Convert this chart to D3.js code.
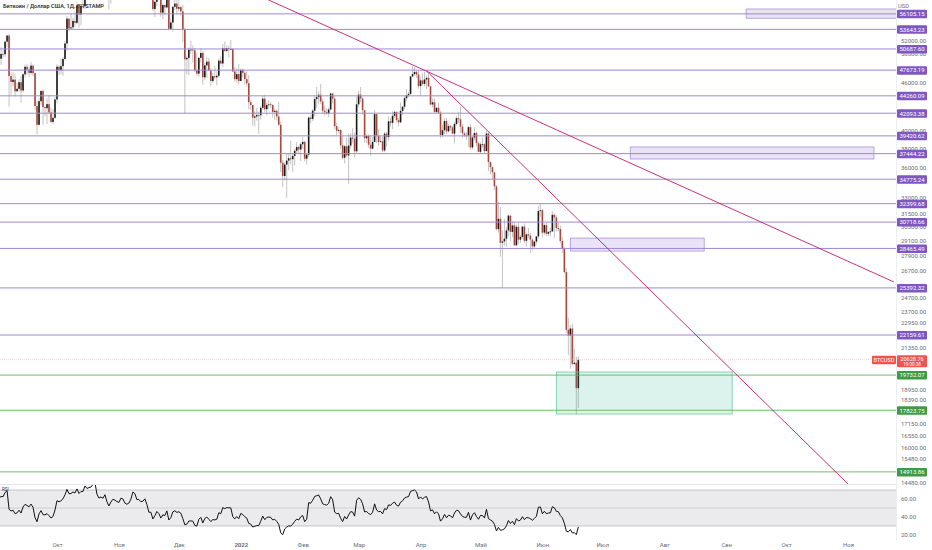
<!DOCTYPE html>
<html>
<head>
<meta charset="utf-8">
<script src="https://cdn.jsdelivr.net/npm/d3@7"></script>
<style>
  html, body { margin: 0; padding: 0; background: #fff; }
  svg { display: block; font-family: Roboto, "Noto Sans", sans-serif; }
</style>
</head>
<body>
<div id="chart"></div>
<script>
// BTC/USD daily, Bitstamp. Candles start 2021-09-02, open of a day = previous close.
const startDay = "2021-09-02";

// Aug 2021 closes, only used to warm up the RSI
const priorCloses = [39850, 39150, 38200, 39740, 40870, 42830, 44600, 43800, 46300, 45600, 45550, 44400, 47820, 47100, 47000, 45900,
  44700, 44800, 46750, 49350, 48870, 49290, 49520, 47700, 48990, 46850, 49080, 48900, 48810, 46990, 47170, 48830];

const closes = [
  // Sep
  49270, 49960, 49920, 51770, 52690, 46870, 46070, 46380, 44850, 45170, 46040, 44950, 47100, 48140, 47760, 47300, 48300, 47260, 42980, 40700, 43580, 44890, 42840, 42710, 43210, 42180, 41040, 41530, 43800,
  // Oct
  48150, 47680, 48230, 49240, 51500, 55340, 53800, 53960, 54970, 54670, 57490, 56010, 57370, 57360, 61670, 60880, 61530, 62030, 64280, 66000, 62200, 60690, 61390, 60900, 63080, 60330, 58470, 60620, 62260, 61880, 61320,
  // Nov
  61000, 63230, 62940, 61440, 61010, 61530, 63330, 67560, 66970, 64880, 64950, 64150, 64400, 65500, 63600, 60350, 60340, 56900, 58100, 59770, 58700, 56300, 57560, 57160, 58960, 53730, 54720, 57270, 57800, 56950,
  // Dec
  57200, 56500, 53600, 49200, 49400, 50580, 50600, 50500, 47670, 47200, 49400, 50100, 46700, 48350, 48860, 47640, 46200, 46850, 46700, 46900, 49000, 48600, 50800, 50400, 50800, 50700, 50700, 47500, 46450, 47130, 46200,
  // Jan
  47700, 47300, 46450, 45900, 43450, 43100, 41550, 41700, 41870, 41850, 42750, 43900, 42580, 43100, 43180, 43100, 42250, 42380, 41700, 40700, 36470, 35100, 36280, 36700, 36950, 36850, 37200, 37750, 38170, 37900, 38480,
  // Feb
  38740, 36900, 37330, 41570, 41400, 42400, 43840, 44100, 44400, 43550, 42390, 42200, 42070, 42550, 44560, 43900, 40540, 40000, 40100, 38350, 37000, 38250, 37250, 38330, 39220, 39100, 37700, 43190,
  // Mar
  44420, 43920, 42450, 39150, 39400, 38420, 37990, 38740, 41980, 39440, 38730, 38810, 37790, 39670, 39280, 41110, 40930, 41770, 42250, 41260, 41000, 42370, 42890, 43960, 44350, 44500, 46820, 47130, 47430, 47060, 45530,
  // Apr
  46280, 45810, 46400, 46620, 45500, 43170, 43440, 42250, 42750, 42150, 39530, 40070, 41150, 39940, 40550, 40390, 39680, 40800, 41500, 41370, 40480, 39710, 39470, 39450, 40430, 38120, 39230, 39740, 38600, 37640,
  // May
  38470, 38470, 37720, 39690, 36550, 36010, 35470, 34060, 30100, 31010, 28940, 29050, 29280, 29990, 31300, 29860, 30420, 28720, 30300, 29200, 29430, 30320, 29100, 29650, 29540, 29200, 28630, 29030, 29470, 31720, 31790,
  // Jun
  29800, 30450, 29700, 29860, 29900, 31370, 31130, 30200, 30110, 29080, 28420, 26580, 22490, 22130, 22580, 20380, 20450, 19000, 20629
];

const highs = [
  50400, 51000, 50560, 51900, 52780, 52920, 47360, 47380, 47100, 45970, 46400, 46900, 47250, 48450, 48500, 48150, 48800, 48360, 47330, 43630, 44000, 44960, 45100, 42950, 43950, 44350, 42780, 42600, 44100,
  48500, 48350, 49300, 49500, 51900, 55750, 55330, 56100, 55480, 56500, 57800, 57680, 57700, 58550, 62900, 62300, 61700, 62650, 64450, 67000, 66600, 63700, 61750, 61500, 63700, 63300, 61500, 62500, 62950, 62300, 62430,
  62400, 64300, 63500, 63100, 62600, 61600, 63400, 67800, 68500, 69000, 65600, 65450, 64900, 65500, 66300, 63600, 60800, 60950, 58300, 59800, 60000, 59250, 57800, 57700, 59350, 59150, 55300, 57400, 58850, 59200,
  59000, 57400, 57600, 53900, 49700, 50900, 51900, 51200, 50800, 50100, 49500, 50800, 50400, 48700, 49500, 49400, 47950, 47300, 48300, 47500, 49300, 49600, 51400, 51800, 51200, 51200, 52000, 50700, 48100, 47900, 48550,
  47900, 47900, 47500, 47500, 47000, 43700, 43100, 42300, 42750, 42250, 43000, 44300, 44400, 43400, 43700, 43500, 43200, 42700, 42500, 43500, 41100, 36800, 36500, 37500, 37500, 38900, 37400, 38000, 38700, 38350, 38700,
  39250, 38850, 37400, 41700, 41900, 42600, 44400, 45400, 44800, 45800, 43900, 43000, 42700, 42800, 44700, 44550, 44200, 40950, 40400, 40150, 39400, 38400, 39200, 39700, 39700, 40300, 39800, 44200,
  44900, 45400, 44100, 42500, 39600, 39600, 39500, 39300, 42500, 42000, 40200, 39400, 39300, 39900, 39900, 41700, 41500, 42300, 42400, 42300, 41500, 43400, 43000, 44200, 45100, 44800, 46900, 48200, 48100, 47700, 47600,
  46700, 47200, 47400, 46900, 47200, 45500, 43900, 43900, 42800, 43400, 42400, 40700, 41500, 41500, 40800, 40700, 40600, 41000, 41700, 42200, 42900, 40800, 39900, 39900, 40600, 40800, 39400, 40400, 39900, 38800,
  38700, 39200, 38600, 40000, 39800, 36600, 36100, 35500, 34200, 32600, 32100, 30000, 31000, 30300, 31400, 31300, 30800, 30700, 30500, 30700, 29600, 30400, 30600, 29800, 30200, 29800, 29300, 29100, 29500, 32200, 32400,
  31900, 30600, 30700, 29900, 30200, 31700, 31500, 31300, 30700, 30400, 29400, 28600, 26900, 23300, 22800, 22900, 21300, 20800, 20850
];

const lows = [
  48600, 48400, 49400, 49500, 50990, 42900, 44400, 45500, 44160, 44770, 44800, 43380, 44700, 46700, 47050, 46750, 47060, 46850, 42500, 39600, 40600, 43100, 40700, 41700, 40800, 42100, 40900, 40760, 41430,
  43300, 47000, 47100, 46900, 49050, 50400, 53400, 53650, 53700, 54100, 54450, 53900, 54300, 56850, 56850, 60200, 58950, 60100, 61350, 63500, 62000, 60000, 59700, 59550, 60700, 59850, 56800, 57800, 60200, 60750, 59600,
  59500, 60650, 61000, 60700, 60750, 60100, 61350, 63300, 66350, 62800, 64100, 62300, 63400, 63600, 63400, 58600, 58400, 56550, 55600, 57400, 58500, 55650, 55300, 55900, 57000, 53600, 53650, 53300, 56700, 56000,
  56500, 55800, 51700, 42000, 47100, 47000, 50000, 48700, 47400, 46900, 46700, 48700, 45700, 46300, 46600, 47550, 45500, 45950, 46400, 45600, 46650, 48450, 48100, 50300, 50200, 49500, 50500, 47400, 46100, 45950, 45700,
  46200, 46700, 45700, 45500, 42600, 42500, 40600, 40500, 41200, 39650, 41300, 42500, 42300, 41850, 42600, 42700, 41550, 41300, 41200, 40600, 35500, 34000, 34650, 32950, 35700, 36300, 35500, 36200, 37400, 37400, 36650,
  38000, 36600, 36300, 37100, 40900, 41150, 41700, 42700, 43200, 43200, 42000, 41800, 41900, 41600, 42450, 43300, 40200, 39500, 39700, 38000, 36800, 36400, 37100, 34300, 38000, 38600, 37000, 37500,
  42800, 43400, 41900, 38700, 38600, 38100, 37200, 37900, 38700, 38600, 38300, 38700, 37600, 37600, 38200, 38900, 40500, 40200, 41500, 40900, 40500, 40900, 41900, 42600, 43600, 44100, 44400, 46700, 46900, 46600, 45200,
  44200, 45600, 45500, 45100, 45400, 43100, 42800, 42100, 42100, 42000, 39200, 39300, 39600, 39600, 39800, 40000, 39600, 38600, 40600, 40900, 39800, 39200, 39300, 39000, 38200, 37900, 37900, 38900, 38200, 37600,
  37400, 38100, 37500, 37700, 35600, 35300, 34800, 33700, 30000, 29800, 27800, 25400, 28700, 28600, 29500, 29100, 29400, 28700, 28700, 28800, 28900, 29300, 28900, 28600, 29300, 28100, 28300, 28500, 28800, 29300, 31200,
  29400, 29600, 29500, 29500, 29500, 29900, 29300, 29900, 29900, 28900, 28100, 26500, 22300, 20900, 20100, 20300, 20300, 17600, 17950
];

// horizontal levels drawn on the chart
const purpleLevels = [56105.15, 53643.23, 50687.60, 47673.19, 44260.09, 42093.38, 39420.62, 37444.22, 34775.24, 32399.68, 30718.66, 28465.49, 25392.32, 22159.61];
const greenLevels = [19732.07, 17823.75, 14913.86];
const lastPrice = 20628.76;
const countdown = "19:00:38";

// price axis ticks (log scale) and rsi ticks
const priceTicks = [52000, 50000, 46000, 40000, 38000, 36000, 33000, 31500, 30300, 29100, 27900, 26700, 24700, 23700, 22950, 21350, 18950, 18390, 17150, 16550, 16000, 15480, 14480];
const rsiTicks = [60, 40, 20];

const monthDates = ["2021-10-01", "2021-11-01", "2021-12-01", "2022-01-01", "2022-02-01", "2022-03-01", "2022-04-01", "2022-05-01", "2022-06-01", "2022-07-01", "2022-08-01", "2022-09-01", "2022-10-01", "2022-11-01"];
const monthLabels = ["Окт", "Ноя", "Дек", "2022", "Фев", "Мар", "Апр", "Май", "Июн", "Июл", "Авг", "Сен", "Окт", "Ноя"];

// trend lines: [date, price] pairs
const trendLines = [
  [["2022-01-13", 58700], ["2022-11-24", 25830]],
  [["2022-04-04", 47560], ["2022-11-01", 14400]]
];

// zones: [from date, to date, top price, bottom price]
const purpleZones = [
  ["2022-09-11", "2022-12-05", 56900, 55400],
  ["2022-07-15", "2022-11-14", 38175, 36870],
  ["2022-06-15", "2022-08-21", 29330, 28250]
];
const greenZones = [
  ["2022-06-08", "2022-09-04", 19910, 17630]
];

const W = 932, H = 550;
const plotRight = 896;
const priceBottom = 484;
const parse = d3.timeParse("%Y-%m-%d");
const fmt = d3.format(".2f");

const PURPLE = "#9c88d9";
const PURPLE_LABEL = "#7e57c2";
const GREEN = "#5cb85f";
const GREEN_LABEL = "#3f9a44";
const TREND = "#c9196a";
const RED = "#ef5350";

const svg = d3.select("#chart").append("svg").attr("width", W).attr("height", H);

const x = d3.scaleTime().domain([parse("2021-10-01"), parse("2022-11-01")]).range([57, 848]);
const y = d3.scaleLog().domain([14400, 58400]).range([priceBottom, 0]);
const yRsi = d3.scaleLinear().domain([20, 60]).range([535, 499]);

const day0 = parse(startDay);
const candles = closes.map((c, i) => {
  const open = i === 0 ? priorCloses[priorCloses.length - 1] : closes[i - 1];
  return {
    date: d3.timeDay.offset(day0, i),
    open: open,
    close: c,
    high: Math.max(highs[i], open, c),
    low: Math.min(lows[i], open, c)
  };
});

// Wilder RSI(14) over the closes
function rsi(values, period) {
  const out = [];
  let avgGain = 0, avgLoss = 0;
  for (let i = 1; i < values.length; i++) {
    const ch = values[i] - values[i - 1];
    const g = Math.max(ch, 0), l = Math.max(-ch, 0);
    if (i <= period) {
      avgGain += g / period;
      avgLoss += l / period;
    } else {
      avgGain = (avgGain * (period - 1) + g) / period;
      avgLoss = (avgLoss * (period - 1) + l) / period;
    }
    out[i] = i >= period ? 100 - 100 / (1 + avgGain / avgLoss) : null;
  }
  return out;
}
const allCloses = priorCloses.concat(closes);
const rsiAll = rsi(allCloses, 14);
const rsiData = candles.map((d, i) => ({ date: d.date, value: rsiAll[priorCloses.length + i] }));

const defs = svg.append("defs");
defs.append("clipPath").attr("id", "clipPrice")
  .append("rect").attr("x", 0).attr("y", 0).attr("width", plotRight).attr("height", priceBottom);
defs.append("clipPath").attr("id", "clipRsi")
  .append("rect").attr("x", 0).attr("y", priceBottom + 1).attr("width", plotRight).attr("height", 56);

// title (sits under the candles)
svg.append("text")
  .attr("x", 3).attr("y", 8)
  .attr("font-size", 5.6).attr("font-weight", 600).attr("fill", "#2a2e39")
  .text("Биткоин / Доллар США, 1Д, BITSTAMP");

const price = svg.append("g").attr("clip-path", "url(#clipPrice)");

// candles
const up = (d) => d.close >= d.open;
price.selectAll(".wick").data(candles).enter().append("line")
  .attr("class", "wick")
  .attr("x1", (d) => x(d.date)).attr("x2", (d) => x(d.date))
  .attr("y1", (d) => y(d.high)).attr("y2", (d) => y(d.low))
  .attr("stroke", "#9a9a9a").attr("stroke-width", 0.6);

price.selectAll(".body").data(candles).enter().append("rect")
  .attr("class", "body")
  .attr("x", (d) => x(d.date) - 0.8)
  .attr("width", 1.6)
  .attr("y", (d) => y(Math.max(d.open, d.close)))
  .attr("height", (d) => Math.max(0.8, Math.abs(y(d.open) - y(d.close))))
  .attr("fill", (d) => (up(d) ? "#1b1b1b" : "#a9473f"));

// zones
price.selectAll(".pzone").data(purpleZones).enter().append("rect")
  .attr("class", "pzone")
  .attr("x", (d) => x(parse(d[0])))
  .attr("width", (d) => x(parse(d[1])) - x(parse(d[0])))
  .attr("y", (d) => y(d[2]))
  .attr("height", (d) => y(d[3]) - y(d[2]))
  .attr("fill", "rgba(149,117,205,0.2)")
  .attr("stroke", "#a793dc").attr("stroke-width", 0.8);

price.selectAll(".gzone").data(greenZones).enter().append("rect")
  .attr("class", "gzone")
  .attr("x", (d) => x(parse(d[0])))
  .attr("width", (d) => x(parse(d[1])) - x(parse(d[0])))
  .attr("y", (d) => y(d[2]))
  .attr("height", (d) => y(d[3]) - y(d[2]))
  .attr("fill", "rgba(38,178,140,0.16)")
  .attr("stroke", "#74c7ad").attr("stroke-width", 0.8);

// horizontal levels
price.selectAll(".plevel").data(purpleLevels).enter().append("line")
  .attr("class", "plevel")
  .attr("x1", 0).attr("x2", plotRight)
  .attr("y1", (d) => y(d)).attr("y2", (d) => y(d))
  .attr("stroke", PURPLE).attr("stroke-width", 1);

price.selectAll(".glevel").data(greenLevels).enter().append("line")
  .attr("class", "glevel")
  .attr("x1", 0).attr("x2", plotRight)
  .attr("y1", (d) => y(d)).attr("y2", (d) => y(d))
  .attr("stroke", GREEN).attr("stroke-width", 0.9);

// last price line
price.append("line")
  .attr("x1", 0).attr("x2", plotRight)
  .attr("y1", y(lastPrice)).attr("y2", y(lastPrice))
  .attr("stroke", "#f6b3b2").attr("stroke-width", 0.6).attr("stroke-dasharray", "1,1");

// trend lines
price.selectAll(".trend").data(trendLines).enter().append("line")
  .attr("class", "trend")
  .attr("x1", (d) => x(parse(d[0][0]))).attr("y1", (d) => y(d[0][1]))
  .attr("x2", (d) => x(parse(d[1][0]))).attr("y2", (d) => y(d[1][1]))
  .attr("stroke", TREND).attr("stroke-width", 0.9);

// pane separators
svg.append("line").attr("x1", 0).attr("x2", plotRight).attr("y1", priceBottom + 0.5).attr("y2", priceBottom + 0.5)
  .attr("stroke", "#e3e5ea").attr("stroke-width", 1);
svg.append("line").attr("x1", plotRight + 0.5).attr("x2", plotRight + 0.5).attr("y1", 0).attr("y2", 541)
  .attr("stroke", "#eceef2").attr("stroke-width", 1);

// RSI pane
const rsiG = svg.append("g").attr("clip-path", "url(#clipRsi)");
rsiG.append("rect")
  .attr("x", 0).attr("width", plotRight)
  .attr("y", yRsi(70)).attr("height", yRsi(30) - yRsi(70))
  .attr("fill", "#ebebee");
rsiG.selectAll(".band").data([70, 50, 30]).enter().append("line")
  .attr("class", "band")
  .attr("x1", 0).attr("x2", plotRight)
  .attr("y1", (d) => yRsi(d)).attr("y2", (d) => yRsi(d))
  .attr("stroke", (d) => (d === 50 ? "#c9c9cc" : "#b9b9bd")).attr("stroke-width", 0.8);
rsiG.append("path")
  .datum(rsiData.filter((d) => d.value != null))
  .attr("fill", "none").attr("stroke", "#111").attr("stroke-width", 1)
  .attr("d", d3.line().x((d) => x(d.date)).y((d) => yRsi(d.value)));
svg.append("text").attr("x", 2).attr("y", 491).attr("font-size", 4.5).attr("fill", "#333").text("RSI");

// right price axis
const axisText = "#6a6d78";
const yAxis = svg.append("g")
  .attr("transform", `translate(${plotRight + 5},0)`)
  .call(d3.axisRight(y).tickValues(priceTicks).tickFormat(fmt).tickSize(0));
yAxis.select(".domain").remove();
yAxis.selectAll("text").attr("font-size", 6).attr("fill", axisText).attr("font-family", "Roboto, sans-serif").attr("x", 0);

const rsiAxis = svg.append("g")
  .attr("transform", `translate(${plotRight + 5},0)`)
  .call(d3.axisRight(yRsi).tickValues(rsiTicks).tickFormat(fmt).tickSize(0));
rsiAxis.select(".domain").remove();
rsiAxis.selectAll("text").attr("font-size", 6).attr("fill", axisText).attr("font-family", "Roboto, sans-serif").attr("x", 0);

svg.append("text").attr("x", plotRight + 2).attr("y", 8).attr("font-size", 5.8).attr("fill", axisText).text("USD");

// level labels on the axis
function axisLabel(value, fill) {
  const g = svg.append("g").attr("transform", `translate(${plotRight + 1},${y(value)})`);
  g.append("rect").attr("x", 0).attr("y", -4).attr("width", 30).attr("height", 8.5).attr("rx", 1).attr("fill", fill);
  g.append("text").attr("x", 15).attr("y", 2.3).attr("text-anchor", "middle")
    .attr("font-size", 6).attr("fill", "#fff").text(fmt(value));
}
purpleLevels.forEach((v) => axisLabel(v, PURPLE_LABEL));
greenLevels.forEach((v) => axisLabel(v, GREEN_LABEL));

// last price labels
const ly = y(lastPrice);
svg.append("rect").attr("x", plotRight - 24).attr("y", ly - 4).attr("width", 24).attr("height", 8.5).attr("rx", 1).attr("fill", RED);
svg.append("text").attr("x", plotRight - 12).attr("y", ly + 2.2).attr("text-anchor", "middle")
  .attr("font-size", 5.6).attr("fill", "#fff").text("BTCUSD");
svg.append("rect").attr("x", plotRight + 1).attr("y", ly - 4.5).attr("width", 30).attr("height", 12).attr("rx", 1).attr("fill", RED);
svg.append("text").attr("x", plotRight + 16).attr("y", ly + 1.4).attr("text-anchor", "middle")
  .attr("font-size", 5.6).attr("fill", "#fff").text(fmt(lastPrice));
svg.append("text").attr("x", plotRight + 16).attr("y", ly + 6.6).attr("text-anchor", "middle")
  .attr("font-size", 4.6).attr("fill", "#fff").text(countdown);

// time axis
const xAxis = svg.append("g")
  .attr("transform", "translate(0,541)")
  .call(d3.axisBottom(x).tickValues(monthDates.map(parse)).tickFormat((d, i) => monthLabels[i]).tickSize(0));
xAxis.select(".domain").remove();
xAxis.selectAll("text")
  .attr("font-size", 6).attr("fill", axisText).attr("font-family", "Roboto, sans-serif")
  .attr("font-weight", (d, i) => (monthLabels[i] === "2022" ? 700 : 400))
  .attr("dy", "0.35em").attr("y", 4);
</script>
</body>
</html>
